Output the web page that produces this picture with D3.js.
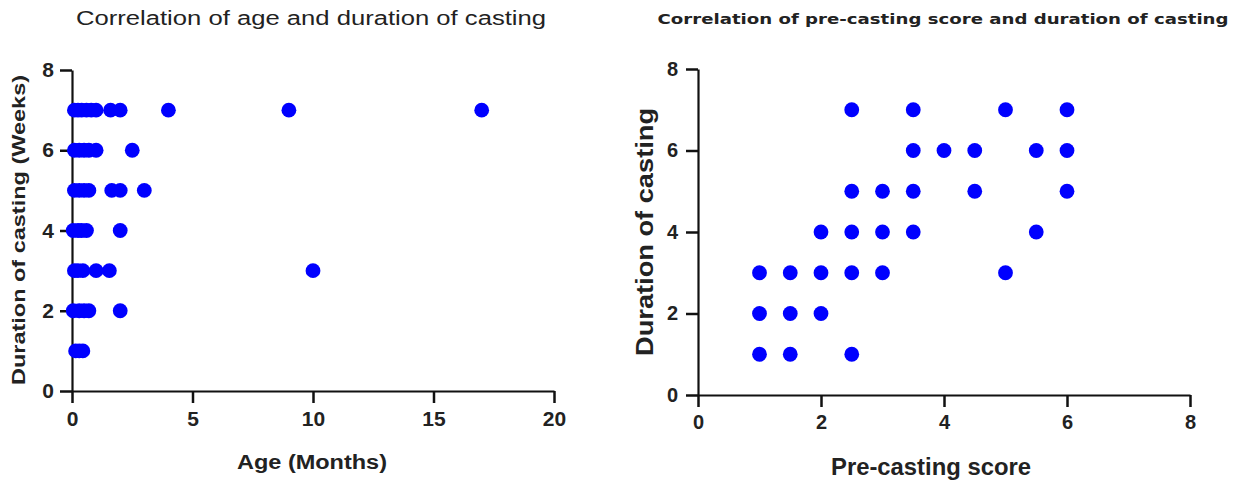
<!DOCTYPE html>
<html>
<head>
<meta charset="utf-8">
<script src="https://cdn.jsdelivr.net/npm/d3@7"></script>
<style>
  body { margin: 0; background: #fff; }
  svg { display: block; }
  .tick text { font-family: "Liberation Sans", Arial, sans-serif; font-weight: bold; fill: #222; }
  .lbl { font-family: "Liberation Sans", Arial, sans-serif; font-weight: bold; fill: #222; }
</style>
</head>
<body>
<svg id="chart" width="1238" height="484"></svg>
<script>
// left panel: age (months) vs duration of casting (weeks)
var ageMonths = [
  0.1, 0.25, 0.4, 0.6, 0.8, 1.0, 1.6, 2.0, 4.0, 9.0, 17.0,
  0.1, 0.3, 0.5, 0.7, 1.0, 2.5,
  0.1, 0.3, 0.5, 0.7, 1.65, 2.0, 3.0,
  0.05, 0.25, 0.4, 0.6, 2.0,
  0.1, 0.25, 0.45, 1.0, 1.55, 10.0,
  0.05, 0.3, 0.5, 0.7, 2.0,
  0.15, 0.3, 0.45
];
var ageDuration = [
  7, 7, 7, 7, 7, 7, 7, 7, 7, 7, 7,
  6, 6, 6, 6, 6, 6,
  5, 5, 5, 5, 5, 5, 5,
  4, 4, 4, 4, 4,
  3, 3, 3, 3, 3, 3,
  2, 2, 2, 2, 2,
  1, 1, 1
];

// right panel: pre-casting score vs duration of casting
var preScore = [
  2.5, 3.5, 5.0, 6.0,
  3.5, 4.0, 4.5, 5.5, 6.0,
  2.5, 3.0, 3.5, 4.5, 6.0,
  2.0, 2.5, 3.0, 3.5, 5.5,
  1.0, 1.5, 2.0, 2.5, 3.0, 5.0,
  1.0, 1.5, 2.0,
  1.0, 1.5, 2.5
];
var preDuration = [
  7, 7, 7, 7,
  6, 6, 6, 6, 6,
  5, 5, 5, 5, 5,
  4, 4, 4, 4, 4,
  3, 3, 3, 3, 3, 3,
  2, 2, 2,
  1, 1, 1
];

var leftXTicks = [0, 5, 10, 15, 20];
var rightXTicks = [0, 2, 4, 6, 8];
var yTicks = [0, 2, 4, 6, 8];

var svg = d3.select("#chart");
var DOT = "#0000ff";

function panel(opt) {
  var g = svg.append("g");
  var x = d3.scaleLinear().domain(opt.xDomain).range(opt.xRange);
  var y = d3.scaleLinear().domain([0, 8]).range(opt.yRange);

  var xAxis = g.append("g")
    .attr("transform", "translate(0," + opt.yRange[0] + ")")
    .call(d3.axisBottom(x).tickValues(opt.xTicks).tickSize(opt.tick).tickPadding(opt.padX).tickSizeOuter(0));
  var yAxis = g.append("g")
    .attr("transform", "translate(" + opt.xRange[0] + ",0)")
    .call(d3.axisLeft(y).tickValues(yTicks).tickSize(opt.tick).tickPadding(opt.padY).tickSizeOuter(0));

  [xAxis, yAxis].forEach(function(a) {
    a.select(".domain").attr("stroke", "#111").attr("stroke-width", 2.2);
    a.selectAll(".tick line").attr("stroke", "#111").attr("stroke-width", 2.5);
    a.selectAll(".tick text").style("font-size", opt.tickFont + "px");
  });

  g.selectAll("circle")
    .data(opt.xs)
    .enter()
    .append("circle")
    .attr("cx", function(d) { return x(d); })
    .attr("cy", function(d, i) { return y(opt.ys[i]); })
    .attr("r", 7.4)
    .attr("fill", DOT);

  // titles and axis labels
  g.append("text").attr("class", "lbl")
    .attr("x", opt.title.x).attr("y", opt.title.y)
    .attr("text-anchor", "middle")
    .style("font-family", opt.title.family)
    .style("font-weight", opt.title.weight)
    .style("font-size", opt.title.size + "px")
    .attr("textLength", opt.title.len).attr("lengthAdjust", "spacingAndGlyphs")
    .text(opt.title.text);

  g.append("text").attr("class", "lbl")
    .attr("x", opt.xLabel.x).attr("y", opt.xLabel.y)
    .attr("text-anchor", "middle")
    .style("font-size", opt.xLabel.size + "px")
    .attr("textLength", opt.xLabel.len).attr("lengthAdjust", "spacingAndGlyphs")
    .text(opt.xLabel.text);

  g.append("text").attr("class", "lbl")
    .attr("transform", "translate(" + opt.yLabel.x + "," + opt.yLabel.y + ") rotate(-90)")
    .attr("text-anchor", "middle")
    .style("font-size", opt.yLabel.size + "px")
    .attr("textLength", opt.yLabel.len).attr("lengthAdjust", "spacingAndGlyphs")
    .text(opt.yLabel.text);
}

panel({
  xDomain: [0, 20], xRange: [72, 554], yRange: [391, 70],
  xTicks: leftXTicks, tick: 12, padX: 8, padY: 6, tickFont: 21,
  xs: ageMonths, ys: ageDuration,
  title: { text: "Correlation of age and duration of casting", x: 311, y: 25, size: 20, len: 470,
           family: "'Liberation Sans', Arial, sans-serif", weight: "normal" },
  xLabel: { text: "Age (Months)", x: 312, y: 469, size: 20, len: 150 },
  yLabel: { text: "Duration of casting (Weeks)", x: 25, y: 230, size: 19, len: 310 }
});

panel({
  xDomain: [0, 8], xRange: [698, 1190], yRange: [395, 69],
  xTicks: rightXTicks, tick: 12, padX: 8, padY: 8, tickFont: 20,
  xs: preScore, ys: preDuration,
  title: { text: "Correlation of pre-casting score and duration of casting", x: 943, y: 24, size: 14, len: 571,
           family: "'DejaVu Sans', Verdana, sans-serif", weight: "bold" },
  xLabel: { text: "Pre-casting score", x: 931, y: 475, size: 23, len: 200 },
  yLabel: { text: "Duration of casting", x: 653, y: 232, size: 23, len: 248 }
});
</script>
</body>
</html>
